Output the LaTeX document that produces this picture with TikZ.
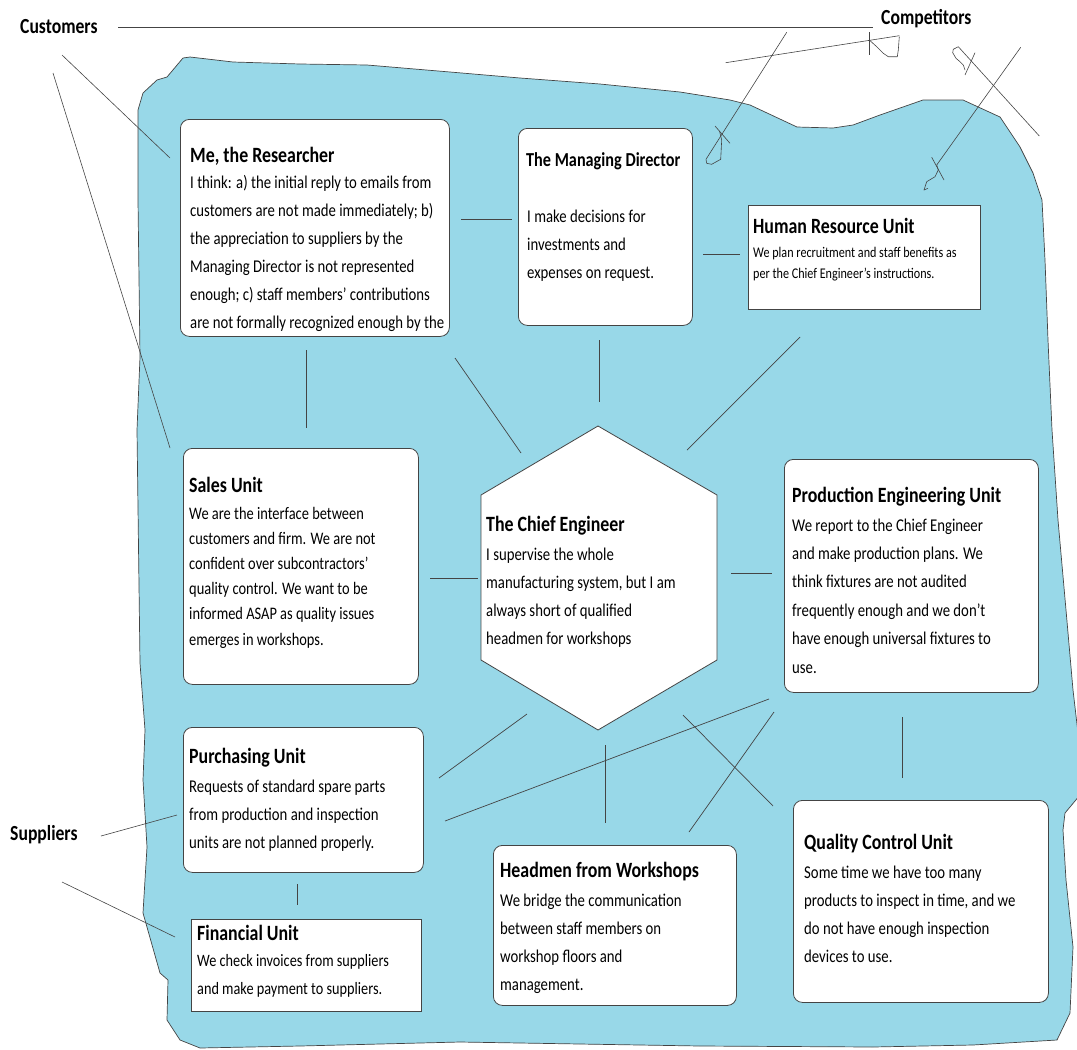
\documentclass[tikz,border=0pt]{standalone}
\usepackage{fontspec}
\setmainfont{Carlito}[FakeStretch=0.82]
\usetikzlibrary{calc}
\definecolor{pond}{HTML}{98D8E8}
\definecolor{edge}{HTML}{444444}
\newcommand\mlines[1]{\vtop{\halign{##\hfil\cr#1\crcr}}}
\tikzset{
  rbox/.style={draw=edge, fill=white, line width=0.8pt, rounded corners=9pt, inner sep=0pt, anchor=north west},
  sbox/.style={draw=edge, fill=white, line width=0.8pt, inner sep=0pt, anchor=north west},
  title/.style={anchor=base west, inner sep=0pt, font=\bfseries\fontsize{21.8}{26}\selectfont},
  body/.style={anchor=base west, inner sep=0pt, font=\fontsize{18}{28}\selectfont},
  label/.style={anchor=base west, inner sep=0pt, font=\bfseries\fontsize{21.5}{26}\selectfont},
  link/.style={draw=edge, line width=0.7pt},
  sketch/.style={draw=edge, line width=0.6pt, line join=round}
}
\begin{document}
\begin{tikzpicture}[x=1pt,y=-1pt]
\useasboundingbox (0,0) rectangle (1077,1050);

% the firm, drawn as a hand-drawn pond
\filldraw[fill=pond, draw=edge, line width=0.7pt]
  (138,200) -- (138,110) -- (143,93) -- (157,80) -- (167,77) -- (183,58) -- (190,57)
  -- (233,62) -- (300,64) -- (367,65) -- (450,72) -- (520,78) -- (600,84) -- (680,92)
  -- (730,100) -- (750,105) -- (797,127) -- (833,128) -- (853,125) -- (880,115)
  -- (923,100) -- (963,100) -- (1000,117) -- (1020,147) -- (1033,173) -- (1042,200)
  -- (1045,260) -- (1048,340) -- (1052,430) -- (1058,520) -- (1066,610) -- (1073,690)
  -- (1080,750) -- (1080,795) -- (1065,813) -- (1063,830) -- (1066,880) -- (1073,947)
  -- (1070,1013) -- (1057,1040) -- (973,1045) -- (873,1047) -- (700,1046) -- (460,1042)
  -- (300,1046) -- (200,1048) -- (180,1040) -- (167,1020) -- (168,980) -- (160,973)
  -- (143,913) -- (147,847) -- (143,780) -- (145,730) -- (140,663) -- (137,430)
  -- (140,357) -- cycle;

% outside parties
\node[label] (cust) at (20,33) {Customers};
\node[label] (comp) at (881,24) {Competitors};
\node[label] (supp) at (10,840) {Suppliers};

% boxes
\node[rbox, minimum width=269pt, minimum height=217pt] (res) at (180,119) {};
\node[rbox, minimum width=174pt, minimum height=197pt] (md) at (518,128) {};
\node[sbox, minimum width=232pt, minimum height=104pt] (hr) at (748,205) {};
\node[rbox, minimum width=235pt, minimum height=236pt] (sales) at (183,448) {};
\node[rbox, minimum width=254pt, minimum height=233pt] (prod) at (784,459) {};
\node[rbox, minimum width=240pt, minimum height=145pt] (pur) at (183,727) {};
\node[sbox, minimum width=230pt, minimum height=92pt] (fin) at (191,919) {};
\node[rbox, minimum width=243pt, minimum height=160pt] (head) at (493,845) {};
\node[rbox, minimum width=255pt, minimum height=202pt] (qc) at (793,800) {};
\filldraw[fill=white, draw=edge, line width=0.8pt]
  (598,426) -- (717,495) -- (717,660) -- (598,730) -- (481,660) -- (481,495) -- cycle;
\coordinate (chief) at (599,578);

% box texts
\node[title] (resT) at (190,162) {Me, the Researcher};
\node[body] (resB) at (190,188) {\mlines{I think: a) the initial reply to emails from\cr
  customers are not made immediately; b)\cr
  the appreciation to suppliers by the\cr
  Managing Director is not represented\cr
  enough; c) staff members’ contributions\cr
  are not formally recognized enough by the}};

\node[title, font=\bfseries\fontsize{19.8}{24}\selectfont] (mdT) at (526,166) {The Managing Director};
\node[body] (mdB) at (527,222) {\mlines{I make decisions for\cr investments and\cr expenses on request.}};

\node[title] (hrT) at (753,233) {Human Resource Unit};
\node[body, font=\fontsize{14.8}{21}\selectfont] (hrB) at (753,257) {\mlines{We plan recruitment and staff benefits as\cr
  per the Chief Engineer’s instructions.}};

\node[title] (salesT) at (189,492) {Sales Unit};
\node[body, font=\fontsize{17.6}{25.2}\selectfont] (salesB) at (189,519) {\mlines{We are the interface between\cr
  customers and firm. We are not\cr
  confident over subcontractors’\cr
  quality control. We want to be\cr
  informed ASAP as quality issues\cr
  emerges in workshops.}};

\node[title] (chiefT) at (486,531) {The Chief Engineer};
\node[body, font=\fontsize{18}{28.3}\selectfont] (chiefB) at (486,560) {\mlines{I supervise the whole\cr
  manufacturing system, but I am\cr
  always short of qualified\cr
  headmen for workshops}};

\node[title] (prodT) at (792,502) {Production Engineering Unit};
\node[body, font=\fontsize{18}{28.4}\selectfont] (prodB) at (792,531) {\mlines{We report to the Chief Engineer\cr
  and make production plans. We\cr
  think fixtures are not audited\cr
  frequently enough and we don’t\cr
  have enough universal fixtures to\cr
  use.}};

\node[title] (purT) at (189,763) {Purchasing Unit};
\node[body] (purB) at (189,792) {\mlines{Requests of standard spare parts\cr
  from production and inspection\cr
  units are not planned properly.}};

\node[title] (finT) at (197,940) {Financial Unit};
\node[body, font=\fontsize{17.4}{28}\selectfont] (finB) at (197,966) {\mlines{We check invoices from suppliers\cr
  and make payment to suppliers.}};

\node[title] (headT) at (500,877) {Headmen from Workshops};
\node[body, font=\fontsize{18}{28.3}\selectfont] (headB) at (500,906) {\mlines{We bridge the communication\cr
  between staff members on\cr
  workshop floors and\cr
  management.}};

\node[title] (qcT) at (804,849) {Quality Control Unit};
\node[body, font=\fontsize{18}{28.3}\selectfont] (qcB) at (804,878) {\mlines{Some time we have too many\cr
  products to inspect in time, and we\cr
  do not have enough inspection\cr
  devices to use.}};

% connector end points
\coordinate (l1a) at (461,219); \coordinate (l1b) at (512,219);
\coordinate (l2a) at (703,254); \coordinate (l2b) at (740,254);
\coordinate (l3a) at (306,350); \coordinate (l3b) at (306,428);
\coordinate (l4a) at (599,340); \coordinate (l4b) at (599,402);
\coordinate (l5a) at (455,358); \coordinate (l5b) at (521,453);
\coordinate (l6a) at (800,337); \coordinate (l6b) at (687,450);
\coordinate (l7a) at (430,578); \coordinate (l7b) at (478,578);
\coordinate (l8a) at (731,573); \coordinate (l8b) at (772,573);
\coordinate (l9a) at (527,714); \coordinate (l9b) at (439,778);
\coordinate (l10a) at (445,821); \coordinate (l10b) at (769,699);
\coordinate (l11a) at (605,745); \coordinate (l11b) at (605,823);
\coordinate (l12a) at (683,715); \coordinate (l12b) at (773,806);
\coordinate (l13a) at (689,832); \coordinate (l13b) at (774,712);
\coordinate (l14a) at (902,717); \coordinate (l14b) at (902,778);
\coordinate (l15a) at (297,884); \coordinate (l15b) at (297,905);

\foreach \i in {1,...,15} \draw[link] (l\i a) -- (l\i b);

% links to the outside parties
\coordinate (o1a) at (118,27);  \coordinate (o1b) at (873,27);
\coordinate (o2a) at (62,55);   \coordinate (o2b) at (170,158);
\coordinate (o3a) at (53,73);   \coordinate (o3b) at (170,448);
\coordinate (o4a) at (101,836); \coordinate (o4b) at (177,815);
\coordinate (o5a) at (62,882);  \coordinate (o5b) at (175,937);
\foreach \i in {1,...,5} \draw[link, line width=0.6pt] (o\i a) -- (o\i b);

% competitors' scribbled links
\draw[sketch] (725.7,62.7) -- (899.3,35.7);
\draw[sketch] (869.3,32.3) -- (869.3,55);
\draw[sketch] (869.3,40) -- (876.7,46.7) -- (883.3,53.3) -- (888.3,56.7) -- (897.3,56.7) -- (898.3,50) -- (899.3,36.7);

\draw[sketch] (786.7,32.3) -- (706,159.3);
\draw[sketch] (715,126) -- (730,143.3);
\draw[sketch] (719.5,131) -- (721.7,140) -- (720.7,159.3) -- (711.7,164.3) -- (706.7,163.3) -- (706,159.3);

\draw[sketch] (1020.7,47.3) -- (936.7,165);
\draw[sketch] (931.7,157.3) -- (944,180);
\draw[sketch] (936.7,165) -- (938.3,170) -- (935,176.7) -- (926.7,181.7) -- (924,190) -- (928,188.3);

\draw[sketch] (958.3,46.7) -- (1039.3,136);
\draw[sketch] (958.3,46.7) -- (953.3,49.3) -- (952.7,52.7) -- (956,58.3) -- (960,61.7) -- (963.3,65) -- (965,70);
\draw[sketch] (975,52.7) -- (965,75);
\end{tikzpicture}
\end{document}
